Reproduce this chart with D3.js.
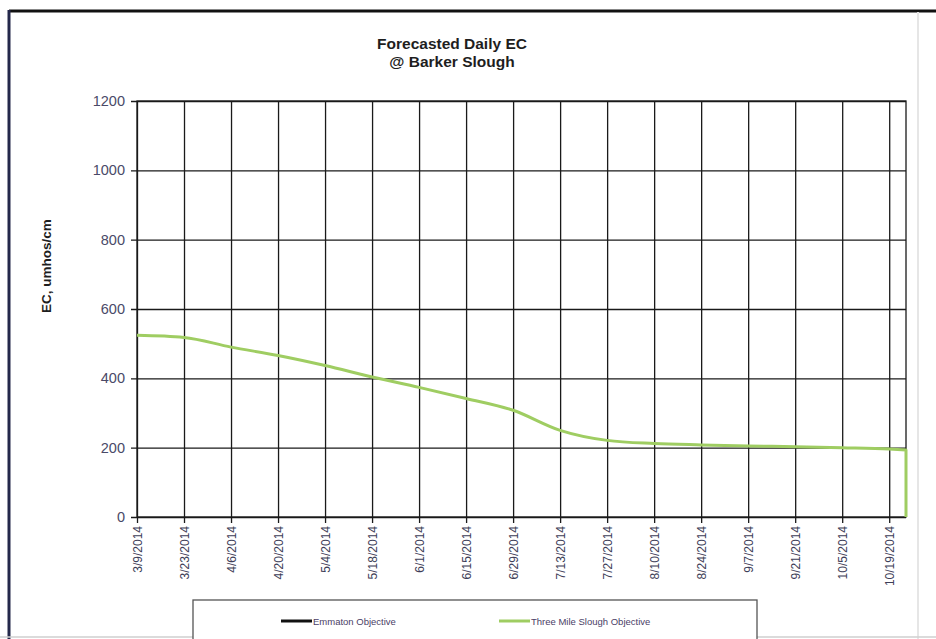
<!DOCTYPE html>
<html>
<head>
<meta charset="utf-8">
<script src="https://cdn.jsdelivr.net/npm/d3@7"></script>
<style>
  body { margin: 0; background: #fff; }
  svg { display: block; font-family: "Liberation Sans", Arial, sans-serif; }
</style>
</head>
<body>
<div id="chart"></div>
<script>
// values
const dates = ["3/9/2014", "3/23/2014", "4/6/2014", "4/20/2014", "5/4/2014", "5/18/2014",
  "6/1/2014", "6/15/2014", "6/29/2014", "7/13/2014", "7/27/2014", "8/10/2014",
  "8/24/2014", "9/7/2014", "9/21/2014", "10/5/2014", "10/19/2014", "10/24/2014"];
const threeMile = [524, 518, 490, 466, 437, 404, 374, 342, 308, 250, 221, 212, 208, 205, 203, 200, 196, 193];
const tickLabels = ["3/9/2014", "3/23/2014", "4/6/2014", "4/20/2014", "5/4/2014", "5/18/2014",
  "6/1/2014", "6/15/2014", "6/29/2014", "7/13/2014", "7/27/2014", "8/10/2014",
  "8/24/2014", "9/7/2014", "9/21/2014", "10/5/2014", "10/19/2014"];
const yTicks = [0, 200, 400, 600, 800, 1000, 1200];
const legendNames = ["Emmaton Objective", "Three Mile Slough Objective"];
const legendColors = ["#111111", "#9fcd62"];

const width = 936, height = 639;
const margin = { top: 101, right: 30, bottom: 122, left: 137 };
const parse = d3.timeParse("%m/%d/%Y");

const svg = d3.select("#chart").append("svg")
  .attr("width", width)
  .attr("height", height);

// page frame of the scan
svg.append("line").attr("x1", 9).attr("x2", width).attr("y1", 11).attr("y2", 11)
  .attr("stroke", "#111").attr("stroke-width", 3);
svg.append("line").attr("x1", 9).attr("x2", 9).attr("y1", 10).attr("y2", height)
  .attr("stroke", "#24284a").attr("stroke-width", 3);
svg.append("line").attr("x1", 918).attr("x2", 918).attr("y1", 12).attr("y2", height)
  .attr("stroke", "#e6e6e6").attr("stroke-width", 2);
svg.append("line").attr("x1", 0).attr("x2", width).attr("y1", 637).attr("y2", 637)
  .attr("stroke", "#cfcfcf").attr("stroke-width", 1.5);

const x = d3.scaleTime()
  .domain(d3.extent(dates, parse))
  .range([margin.left, width - margin.right]);

const y = d3.scaleLinear()
  .domain([0, 1200])
  .range([height - margin.bottom, margin.top]);

const g = svg.append("g");

// horizontal grid + y axis
g.append("g")
  .attr("transform", `translate(${margin.left},0)`)
  .call(d3.axisLeft(y).tickValues(yTicks).tickFormat(d3.format("d"))
    .tickSizeInner(-(x.range()[1] - margin.left)).tickPadding(12))
  .call(s => s.select(".domain").remove())
  .call(s => s.selectAll(".tick line").attr("x1", -6).attr("stroke", "#1a1a1a").attr("stroke-width", 1.3))
  .call(s => s.selectAll(".tick text").attr("font-size", 14.5).attr("fill", "#4a4a68")
    .attr("font-family", "'Liberation Sans', Arial, sans-serif"));

// vertical grid + x axis
const xTickDates = tickLabels.map(parse);
g.append("g")
  .attr("transform", `translate(0,${y(0)})`)
  .call(d3.axisBottom(x).tickValues(xTickDates).tickFormat(d3.timeFormat("%-m/%-d/%Y")).tickSize(6))
  .call(s => s.select(".domain").remove())
  .call(s => s.selectAll(".tick line").attr("y1", 6).attr("y2", -(y(0) - margin.top))
    .attr("stroke", "#1a1a1a").attr("stroke-width", 1.3))
  .call(s => s.selectAll(".tick text")
    .attr("transform", "rotate(-90)")
    .attr("text-anchor", "end")
    .attr("x", -9).attr("y", 0).attr("dy", "0.35em")
    .attr("font-size", 12).attr("fill", "#3e3e58")
    .attr("font-family", "'Liberation Sans', Arial, sans-serif"));

// plot frame
g.append("rect")
  .attr("x", margin.left).attr("y", margin.top)
  .attr("width", x.range()[1] - margin.left)
  .attr("height", y(0) - margin.top)
  .attr("fill", "none").attr("stroke", "#1a1a1a").attr("stroke-width", 1.3);

// Three Mile Slough line
const pts = dates.map((d, i) => [x(parse(d)), y(threeMile[i])]);
const line = d3.line().curve(d3.curveMonotoneX);
const last = pts[pts.length - 1];
g.append("path")
  .attr("d", line(pts) + `L${last[0]},${y(0)}`)
  .attr("fill", "none")
  .attr("stroke", legendColors[1])
  .attr("stroke-width", 3)
  .attr("stroke-linejoin", "round");

// titles
svg.append("text")
  .attr("x", 452).attr("y", 49)
  .attr("text-anchor", "middle")
  .attr("font-size", 15.5).attr("font-weight", "bold").attr("fill", "#1e1e1e")
  .text("Forecasted Daily EC");
svg.append("text")
  .attr("x", 452).attr("y", 67)
  .attr("text-anchor", "middle")
  .attr("font-size", 15.5).attr("font-weight", "bold").attr("fill", "#1e1e1e")
  .text("@ Barker Slough");

svg.append("text")
  .attr("transform", `translate(51,266) rotate(-90)`)
  .attr("text-anchor", "middle")
  .attr("font-size", 13.5).attr("font-weight", "bold").attr("fill", "#1e1e1e")
  .text("EC, umhos/cm");

// legend box
const legend = svg.append("g");
legend.append("rect")
  .attr("x", 193).attr("y", 600)
  .attr("width", 564).attr("height", 60)
  .attr("fill", "#fff").attr("stroke", "#555").attr("stroke-width", 1.3);

const legX = [281, 499];
legendNames.forEach((name, i) => {
  legend.append("line")
    .attr("x1", legX[i]).attr("x2", legX[i] + 31)
    .attr("y1", 621).attr("y2", 621)
    .attr("stroke", legendColors[i]).attr("stroke-width", 3);
  legend.append("text")
    .attr("x", legX[i] + 32).attr("y", 624.5)
    .attr("font-size", 9.5).attr("fill", "#4a3e66")
    .text(name);
});
</script>
</body>
</html>
